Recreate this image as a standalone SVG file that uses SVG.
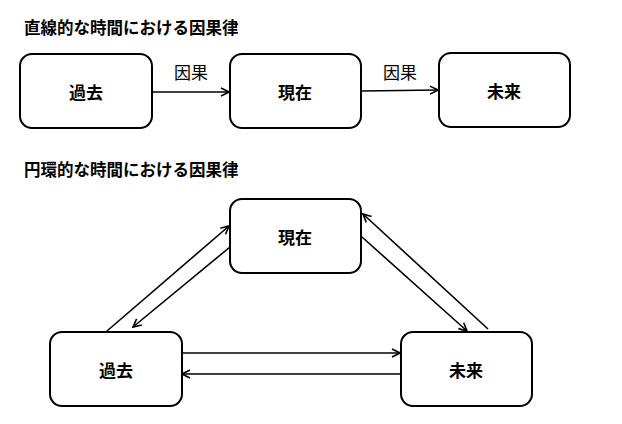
<svg xmlns="http://www.w3.org/2000/svg" width="622" height="424" viewBox="0 0 622 424">
<style>
.box{fill:#fff;stroke:#000;stroke-width:2}
.lbl{font-family:"Noto Sans CJK JP","Noto Sans CJK SC",sans-serif;font-weight:bold;font-size:17px;text-anchor:middle;dominant-baseline:central}
.title{font-family:"Noto Sans CJK JP","Noto Sans CJK SC",sans-serif;font-weight:bold;font-size:16.5px}
.edge{fill:none;stroke:#000;stroke-width:1.6;marker-end:url(#arr)}
.elbl{font-family:"Noto Sans CJK JP","Noto Sans CJK SC",sans-serif;font-size:17px;text-anchor:middle}
</style>
<defs>
<marker id="arr" viewBox="0 0 10 10" refX="9" refY="5" markerWidth="10" markerHeight="10" markerUnits="userSpaceOnUse" orient="auto">
<path d="M1,1 L9,5 L1,9" fill="none" stroke="#000" stroke-width="1.6"/>
</marker>
</defs>
<text class="title" x="24" y="34">直線的な時間における因果律</text>
<text class="title" x="24" y="176">円環的な時間における因果律</text>
<g id="connectors">
<line class="edge" x1="152" y1="92" x2="229" y2="92"/>
<line class="edge" x1="362" y1="91" x2="438" y2="90"/>
<text class="elbl" x="191" y="79">因果</text>
<text class="elbl" x="400" y="79">因果</text>
<line class="edge" x1="107" y1="331" x2="229" y2="226"/>
<line class="edge" x1="230" y1="247" x2="133" y2="327"/>
<line class="edge" x1="362" y1="237" x2="467" y2="331"/>
<line class="edge" x1="488" y1="329" x2="363" y2="214"/>
<line class="edge" x1="183" y1="353" x2="400" y2="353"/>
<line class="edge" x1="401" y1="374" x2="182" y2="374"/>
</g>
<g id="n1"><rect class="box" x="20" y="54" width="132" height="74" rx="12"/><text class="lbl" x="86" y="91">過去</text></g>
<g id="n2"><rect class="box" x="230" y="54" width="131" height="74" rx="12"/><text class="lbl" x="295" y="91">現在</text></g>
<g id="n3"><rect class="box" x="439" y="53" width="131" height="74" rx="12"/><text class="lbl" x="504" y="90">未来</text></g>
<g id="n4"><rect class="box" x="230" y="199" width="131" height="74" rx="12"/><text class="lbl" x="295" y="236">現在</text></g>
<g id="n5"><rect class="box" x="50" y="332" width="132" height="74" rx="12"/><text class="lbl" x="116" y="369">過去</text></g>
<g id="n6"><rect class="box" x="401" y="332" width="131" height="74" rx="12"/><text class="lbl" x="466" y="369">未来</text></g>
</svg>
